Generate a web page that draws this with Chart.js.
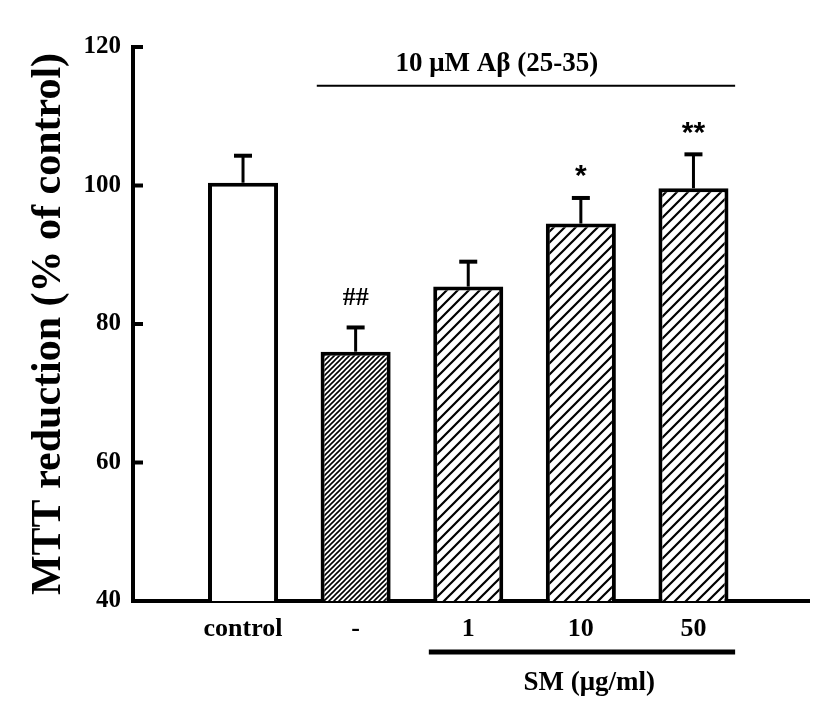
<!DOCTYPE html>
<html>
<head>
<meta charset="utf-8">
<script src="https://cdn.jsdelivr.net/npm/chart.js@4.4.0/dist/chart.umd.min.js"></script>
<style>
    html, body { margin: 0; padding: 0; background: #fff; }
    #wrap { width: 827px; height: 719px; }
</style>
</head>
<body>
<div id="wrap"><canvas id="myChart" width="827" height="719"></canvas></div>
<script>
// values
const groups = ['control', '-', '1', '10', '50'];
const mtt = [100.4, 76.0, 85.4, 94.5, 99.6];
const sem = [3.9, 3.5, 3.6, 3.7, 4.9];
const marks = ['', '##', '', '*', '**'];
const yTicks = [40, 60, 80, 100, 120];
const fills = ['white', 'dense', 'sparse', 'sparse', 'sparse'];

const SERIF = "'Liberation Serif', 'Times New Roman', serif";

function hatch(step, lw) {
    let c = document.createElement('canvas');
    c.width = step;
    c.height = step;
    let g = c.getContext('2d');
    g.fillStyle = '#fff';
    g.fillRect(0, 0, step, step);
    g.strokeStyle = '#000';
    g.lineWidth = lw;
    g.beginPath();
    g.moveTo(0, step);
    g.lineTo(step, 0);
    g.moveTo(-step / 2, step / 2);
    g.lineTo(step / 2, -step / 2);
    g.moveTo(step / 2, step * 1.5);
    g.lineTo(step * 1.5, step / 2);
    g.stroke();
    return g.createPattern(c, 'repeat');
}

var ctx = document.getElementById('myChart');
var patterns = {
    white: '#ffffff',
    dense: hatch(5, 1.6),
    sparse: hatch(11, 2.2),
};

const extras = {
    id: 'extras',
    afterDatasetsDraw(chart) {
        const { ctx, scales: { x, y }, chartArea } = chart;
        ctx.save();
        ctx.strokeStyle = '#000';
        ctx.fillStyle = '#000';
        ctx.lineCap = 'butt';
        // inward tick marks on the y axis
        ctx.lineWidth = 4;
        yTicks.forEach(v => {
            let py = y.getPixelForValue(v);
            ctx.beginPath();
            ctx.moveTo(chartArea.left, py);
            ctx.lineTo(chartArea.left + 10, py);
            ctx.stroke();
        });
        // error bars + significance marks
        mtt.forEach((v, i) => {
            let px = x.getPixelForValue(i + 1);
            let base = y.getPixelForValue(v);
            let top = y.getPixelForValue(v + sem[i]);
            ctx.lineWidth = 3;
            ctx.beginPath();
            ctx.moveTo(px, base);
            ctx.lineTo(px, top);
            ctx.stroke();
            ctx.lineWidth = 4;
            ctx.beginPath();
            ctx.moveTo(px - 9, top);
            ctx.lineTo(px + 9, top);
            ctx.stroke();
            if (marks[i]) {
                ctx.textAlign = 'center';
                ctx.textBaseline = 'middle';
                if (marks[i].startsWith('#')) {
                    ctx.font = 'bold 26px ' + SERIF;
                    ctx.fillText(marks[i], px, top - 29);
                } else {
                    ctx.font = "bold 30px 'Liberation Sans', Arial, sans-serif";
                    ctx.fillText(marks[i], px, top - 28 + 7);
                }
            }
        });
        // A-beta bracket
        ctx.lineWidth = 2;
        ctx.beginPath();
        ctx.moveTo(x.getPixelForValue(1.655), y.getPixelForValue(114.4));
        ctx.lineTo(x.getPixelForValue(5.37), y.getPixelForValue(114.4));
        ctx.stroke();
        ctx.font = 'bold 27px ' + SERIF;
        ctx.textAlign = 'center';
        ctx.textBaseline = 'middle';
        ctx.fillText('10 \u03BCM A\u03B2 (25-35)', x.getPixelForValue(3.254), y.getPixelForValue(117.5));
        // SM bracket under the axis
        ctx.lineWidth = 5;
        ctx.beginPath();
        ctx.moveTo(x.getPixelForValue(2.65), chartArea.bottom + 51);
        ctx.lineTo(x.getPixelForValue(5.37), chartArea.bottom + 51);
        ctx.stroke();
        ctx.fillText('SM (\u03BCg/ml)', x.getPixelForValue(4.075), chartArea.bottom + 82);
        ctx.restore();
    },
};

var chart = new Chart(ctx, {
    type: 'bar',
    data: {
        datasets: [
            {
                label: 'MTT',
                data: mtt.map((v, i) => ({ x: i + 1, y: v })),
                backgroundColor: fills.map(f => patterns[f]),
                borderColor: '#000',
                borderWidth: 4,
                borderSkipped: false,
                categoryPercentage: 1,
                barPercentage: 0.622,
            },
        ],
    },
    options: {
        responsive: false,
        animation: false,
        layout: { padding: { top: 47, right: 18, left: 0, bottom: 0 } },
        plugins: {
            legend: { display: false },
            tooltip: { enabled: false },
        },
        scales: {
            x: {
                type: 'linear',
                offset: false,
                min: 0.023,
                max: 6.026,
                grid: { display: false, drawTicks: false, offset: false },
                border: { display: true, color: '#000', width: 4 },
                afterBuildTicks: (scale) => {
                    scale.ticks = groups.map((g, i) => ({ value: i + 1 }));
                },
                afterFit: (scale) => { scale.height = 118; },
                ticks: {
                    callback: (val) => groups[Math.round(val) - 1],
                    color: '#000',
                    padding: 13,
                    maxRotation: 0,
                    autoSkip: false,
                    font: { family: SERIF, size: 26, weight: 'bold' },
                },
            },
            y: {
                min: 40,
                max: 120,
                grid: { display: false, drawTicks: false },
                border: { display: true, color: '#000', width: 4 },
                afterFit: (scale) => { scale.width = 133; },
                ticks: {
                    stepSize: 20,
                    color: '#000',
                    padding: 12,
                    font: { family: SERIF, size: 25, weight: 'bold' },
                },
                title: {
                    display: true,
                    text: 'MTT reduction (% of control)',
                    color: '#000',
                    padding: { top: 24, bottom: 0 },
                    font: { family: SERIF, size: 42, weight: 'bold' },
                },
            },
        },
    },
    plugins: [extras],
});
</script>
</body>
</html>
